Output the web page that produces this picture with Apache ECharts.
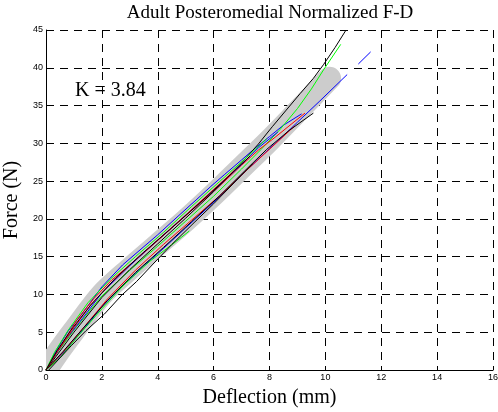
<!DOCTYPE html>
<html>
<head>
<meta charset="utf-8">
<script src="https://cdn.jsdelivr.net/npm/echarts@6/dist/echarts.min.js"></script>
<style>html,body{margin:0;padding:0;background:#fff}#c{width:498px;height:412px}</style>
</head>
<body>
<div id="c"></div>
<script>
// ---- data ----
var titleText = 'Adult Posteromedial Normalized F-D';
var xName = 'Deflection (mm)';
var yName = 'Force (N)';
var kLabel = 'K = 3.84';
var xTicks = [0, 2, 4, 6, 8, 10, 12, 14, 16];
var yTicks = [0, 5, 10, 15, 20, 25, 30, 35, 40, 45];

// mean corridor (thick gray band)
var band = [[0,0],[0.5,2.7],[1,5.2],[2,10.0],[3,13.4],[4,16.6],[5,19.8],[6,23.2],[7,26.8],[8,30.4],[9,34.2],[10.15,38.6]];

// individual specimen curves
var blue1 = [[0,0],[0.4,2.8],[0.8,5.2],[1.2,7.0],[2,11.0],[2.74,13.9],[3.4,16.0],[4,17.9],[4.8,20.6],[5.4,22.6],[5.9,24.3],[6.4,25.9],[7,27.8],[7.5,29.4],[8,30.9],[8.5,32.4],[9.15,33.9]];
var blue2 = [[0,0],[0.4,1.4],[0.65,2.4],[1.18,4.7],[1.6,6.5],[2,8.4],[2.6,10.6],[3,12.0],[3.5,13.8],[4,15.4],[5,18.8],[6,22.2],[7,25.8],[8,29.3],[8.5,31.0],[9,32.8],[9.8,35.6],[10.78,39.1]];
var blue2b = [[11.18,40.5],[11.62,42.1]];
var blue3 = [[0,0],[0.3,1.8],[0.7,4.0],[1.3,6.8],[2,10.2],[3,13.8],[4,17.2],[5,20.5],[6,23.8],[7,27.2],[7.6,29.4],[8.3,31.5]];
var green1 = [[0,0],[0.4,2.3],[1,5.3],[2,9.8],[3,13.2],[4,16.4],[5,19.7],[6,23.0],[7,26.6],[7.7,29.2],[8.37,31.8],[9.0,34.6],[9.5,37.2],[9.93,39.7],[10.55,43.1]];
var green2 = [[0,0],[0.5,1.6],[1.1,4.3],[1.6,6.4],[2,8.1],[2.8,11.3],[3.3,13.0],[3.72,14.4],[4.44,16.4],[4.86,17.6],[5.13,18.4]];
var green3 = [[0,0],[0.3,2.3],[0.8,5.3],[1.5,8.9],[2.3,12.0],[3.2,15.0],[4.2,18.2],[5.2,21.6],[6.2,24.9],[7.2,28.2],[7.9,30.6]];
var red1 = [[0,0],[0.5,3.0],[1.1,6.6],[1.7,9.4],[2.35,11.9],[3.0,13.9],[3.72,16.2],[4.5,18.8],[5.3,21.4],[6.2,24.3],[7,27.1],[7.6,29.1],[8.2,30.8],[8.8,32.6],[9.27,34.0]];
var red2 = [[0,0],[0.6,2.3],[1.3,5.4],[2.2,9.4],[3.2,13.2],[4.2,16.6],[5.2,19.8],[6.2,23.0],[7.2,26.5],[8.2,29.9],[8.9,32.3]];
var red3 = [[0,0],[0.4,2.4],[1,5.6],[1.6,8.6],[2.3,11.4],[3,13.9],[4,17.2],[5,20.5],[6,23.9],[6.8,26.6]];
var black1 = [[0,0],[0.5,2.5],[1,5.0],[2,9.6],[3,13.3],[4,16.7],[5,20.1],[6,23.6],[7,27.4],[7.6,29.9],[8.1,32.2],[8.6,34.4],[9.1,36.6],[9.57,38.6],[9.93,40.4],[10.35,42.7],[10.74,45]];
var black2 = [[0,0],[0.6,2.4],[1.3,5.4],[2.2,9.2],[3.2,12.9],[4.2,16.2],[5.2,19.6],[6.2,23.0],[7.1,26.3],[7.9,29.2],[8.7,31.7],[9.57,34.0]];
var black3 = [[0.1,0],[0.5,1.6],[0.9,3.2],[1.43,5.2],[2.09,7.4],[2.71,9.9],[3.24,11.7],[3.8,13.9],[4.5,16.6],[5.3,19.5],[6,22.0],[7,25.8],[7.4,27.3]];
var black4 = [[0,0],[0.4,2.6],[0.9,5.3],[1.6,8.6],[2.5,12.2],[3.5,15.6],[4.5,18.8],[5.5,22.1],[6.5,25.5],[7.3,28.3]];

var curves = [
  {d: blue1, c: '#0000ff'}, {d: green1, c: '#00ff00'}, {d: red1, c: '#ff0000'}, {d: black1, c: '#000000'},
  {d: blue2, c: '#0000ff'}, {d: green2, c: '#00ff00'}, {d: red2, c: '#ff0000'}, {d: black2, c: '#000000'},
  {d: blue3, c: '#0000ff'}, {d: green3, c: '#00ff00'}, {d: red3, c: '#ff0000'}, {d: black3, c: '#000000'},
  {d: blue2b, c: '#0000ff'}, {d: black4, c: '#000000'}
];

var series = [{
  type: 'custom', data: band, silent: true, clip: true, z: 1,
  renderItem: function (params, api) {
    if (params.dataIndex !== 0) return null;
    var pts = band.map(function (p) { return api.coord(p); });
    return {type: 'polyline', shape: {points: pts, smooth: 0.3},
      style: {stroke: '#cccccc', fill: null, lineWidth: 23, lineCap: 'round', lineJoin: 'round'}};
  }
}];
curves.forEach(function (cv) {
  series.push({type: 'line', data: cv.d, symbol: 'none', silent: true,
    lineStyle: {color: cv.c, width: 1}, z: 2});
});

var split = {show: true, showMinLine: true, showMaxLine: true, lineStyle: {color: '#000', width: 1, type: [8, 6]}};
var chart = echarts.init(document.getElementById('c'), null, {renderer: 'canvas'});
chart.setOption({
  animation: false,
  backgroundColor: '#fff',
  grid: {left: 46, right: 5, top: 30, bottom: 42, containLabel: false, outerBoundsMode: 'none'},
  xAxis: {type: 'value', min: xTicks[0], max: xTicks[xTicks.length - 1], interval: 2,
    name: xName, nameLocation: 'middle', nameGap: 18,
    nameTextStyle: {fontFamily: 'Liberation Serif', fontSize: 20, color: '#000'},
    axisLine: {show: true, lineStyle: {color: '#000', width: 1}},
    axisTick: {show: true, inside: true, length: 4, lineStyle: {color: '#000'}},
    axisLabel: {fontFamily: 'Liberation Sans', fontSize: 9, color: '#000', margin: 3,
      showMinLabel: true, showMaxLabel: true, hideOverlap: false},
    splitLine: split},
  yAxis: {type: 'value', min: yTicks[0], max: yTicks[yTicks.length - 1], interval: 5,
    name: yName, nameLocation: 'middle', nameGap: 20,
    nameTextStyle: {fontFamily: 'Liberation Serif', fontSize: 20, color: '#000'},
    axisLine: {show: true, lineStyle: {color: '#000', width: 1}},
    axisTick: {show: true, inside: true, length: 4, lineStyle: {color: '#000'}},
    axisLabel: {fontFamily: 'Liberation Sans', fontSize: 9, color: '#000', margin: 3,
      showMinLabel: true, showMaxLabel: true, hideOverlap: false},
    splitLine: split},
  graphic: [
    {type: 'text', x: 270, y: 13, silent: true,
      style: {text: titleText, fontFamily: 'Liberation Serif', fontSize: 19, fill: '#000',
        textAlign: 'center', textVerticalAlign: 'middle'}},
    {type: 'text', left: 75, top: 81, silent: true,
      style: {text: kLabel, fontFamily: 'Liberation Serif', fontSize: 20, fill: '#000'}}
  ],
  series: series
});
</script>
</body>
</html>
